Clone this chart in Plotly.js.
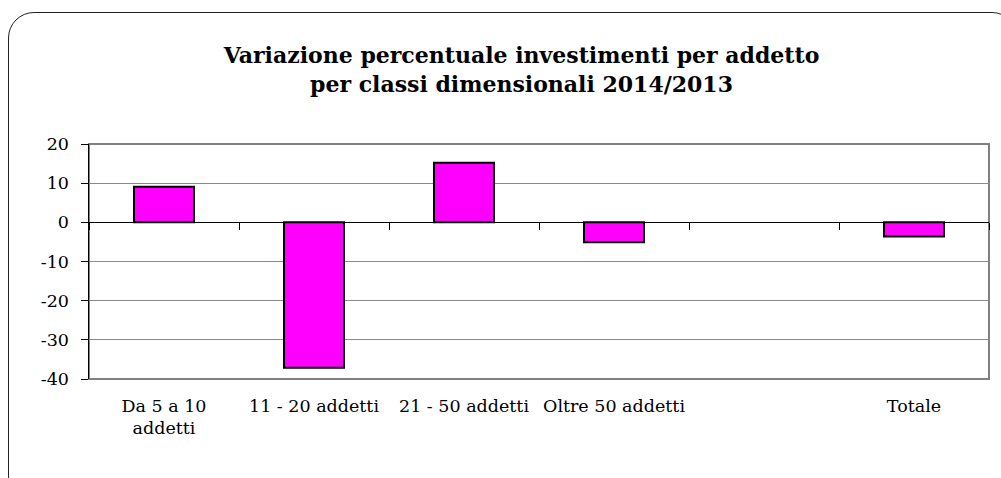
<!DOCTYPE html>
<html>
<head>
<meta charset="utf-8">
<script src="https://cdn.plot.ly/plotly-3.0.1.min.js"></script>
<style>
  html, body { margin: 0; padding: 0; background: #fff; }
  #wrap { position: relative; width: 1001px; height: 478px; overflow: hidden; }
  #chart { width: 1001px; height: 478px; }
  #frame { position: absolute; left: 8px; top: 12px; width: 1010px; height: 490px;
           border: 1.5px solid #222; border-radius: 26px; pointer-events: none; box-sizing: border-box; }
</style>
</head>
<body>
<div id="wrap">
  <div id="chart"></div>
  <div id="frame"></div>
</div>
<script>
// Data
const categories = ["Da 5 a 10<br>addetti", "11 - 20 addetti", "21 - 50 addetti", "Oltre 50 addetti", " ", "Totale"];
const values = [9.1, -37.1, 15.2, -5.1, null, -3.6];
const yTickValues = [-40, -30, -20, -10, 0, 10, 20];
const yTickLabels = ["-40", "-30", "-20", "-10", "0", "10", "20"];
const yRange = [-40, 20];
const titleText = "Variazione percentuale investimenti per addetto<br>per classi dimensionali 2014/2013";

const serif = "DejaVu Serif";

const traces = [
  {
    type: "bar",
    x: categories,
    y: values,
    marker: { color: "#FF00FF", line: { color: "#000000", width: 2 } },
    hoverinfo: "skip",
    showlegend: false
  },
  {
    type: "scatter",
    mode: "markers",
    x: categories,
    y: values,
    xaxis: "x2",
    marker: { opacity: 0, size: 1 },
    hoverinfo: "skip",
    showlegend: false
  }
];

const zeroPos = (0 - yRange[0]) / (yRange[1] - yRange[0]);

const layout = {
  width: 1001,
  height: 478,
  margin: { l: 89, r: 12, t: 144, b: 99, pad: 0 },
  paper_bgcolor: "rgba(0,0,0,0)",
  plot_bgcolor: "#ffffff",
  bargap: 0.6,
  showlegend: false,
  title: {
    text: titleText,
    font: { family: serif, size: 22, color: "#000", weight: "bold" },
    xref: "container", x: 0.521, xanchor: "center",
    yref: "container", y: 1 - 63 / 478, yanchor: "top"
  },
  xaxis: {
    type: "category",
    categoryorder: "array",
    categoryarray: categories,
    range: [-0.5, categories.length - 0.5],
    showline: false,
    showgrid: false,
    zeroline: false,
    ticks: "",
    ticklabelstandoff: 14,
    tickfont: { family: serif, size: 17.5, color: "#000" },
    fixedrange: true
  },
  xaxis2: {
    type: "category",
    overlaying: "x",
    anchor: "free",
    position: zeroPos,
    side: "bottom",
    categoryorder: "array",
    categoryarray: categories,
    range: [-0.5, categories.length - 0.5],
    showline: true,
    linecolor: "#000",
    linewidth: 1,
    showgrid: false,
    zeroline: false,
    ticks: "outside",
    tickson: "boundaries",
    ticklen: 7,
    tickwidth: 1,
    tickcolor: "#000",
    showticklabels: false,
    fixedrange: true
  },
  yaxis: {
    range: yRange,
    tickmode: "array",
    tickvals: yTickValues,
    ticktext: yTickLabels,
    showgrid: true,
    gridcolor: "#8a8a8a",
    gridwidth: 1,
    zeroline: false,
    showline: true,
    linecolor: "#000",
    linewidth: 1.5,
    ticks: "outside",
    ticklen: 7,
    tickwidth: 1,
    tickcolor: "#000",
    ticklabelstandoff: 8,
    tickfont: { family: serif, size: 17.5, color: "#000" },
    fixedrange: true
  },
  shapes: [
    {
      type: "rect", xref: "paper", yref: "paper",
      x0: 0, x1: 1, y0: 0, y1: 1,
      line: { color: "#808080", width: 2 },
      layer: "below"
    }
  ]
};

Plotly.newPlot("chart", traces, layout, { displayModeBar: false, staticPlot: true });
</script>
</body>
</html>
